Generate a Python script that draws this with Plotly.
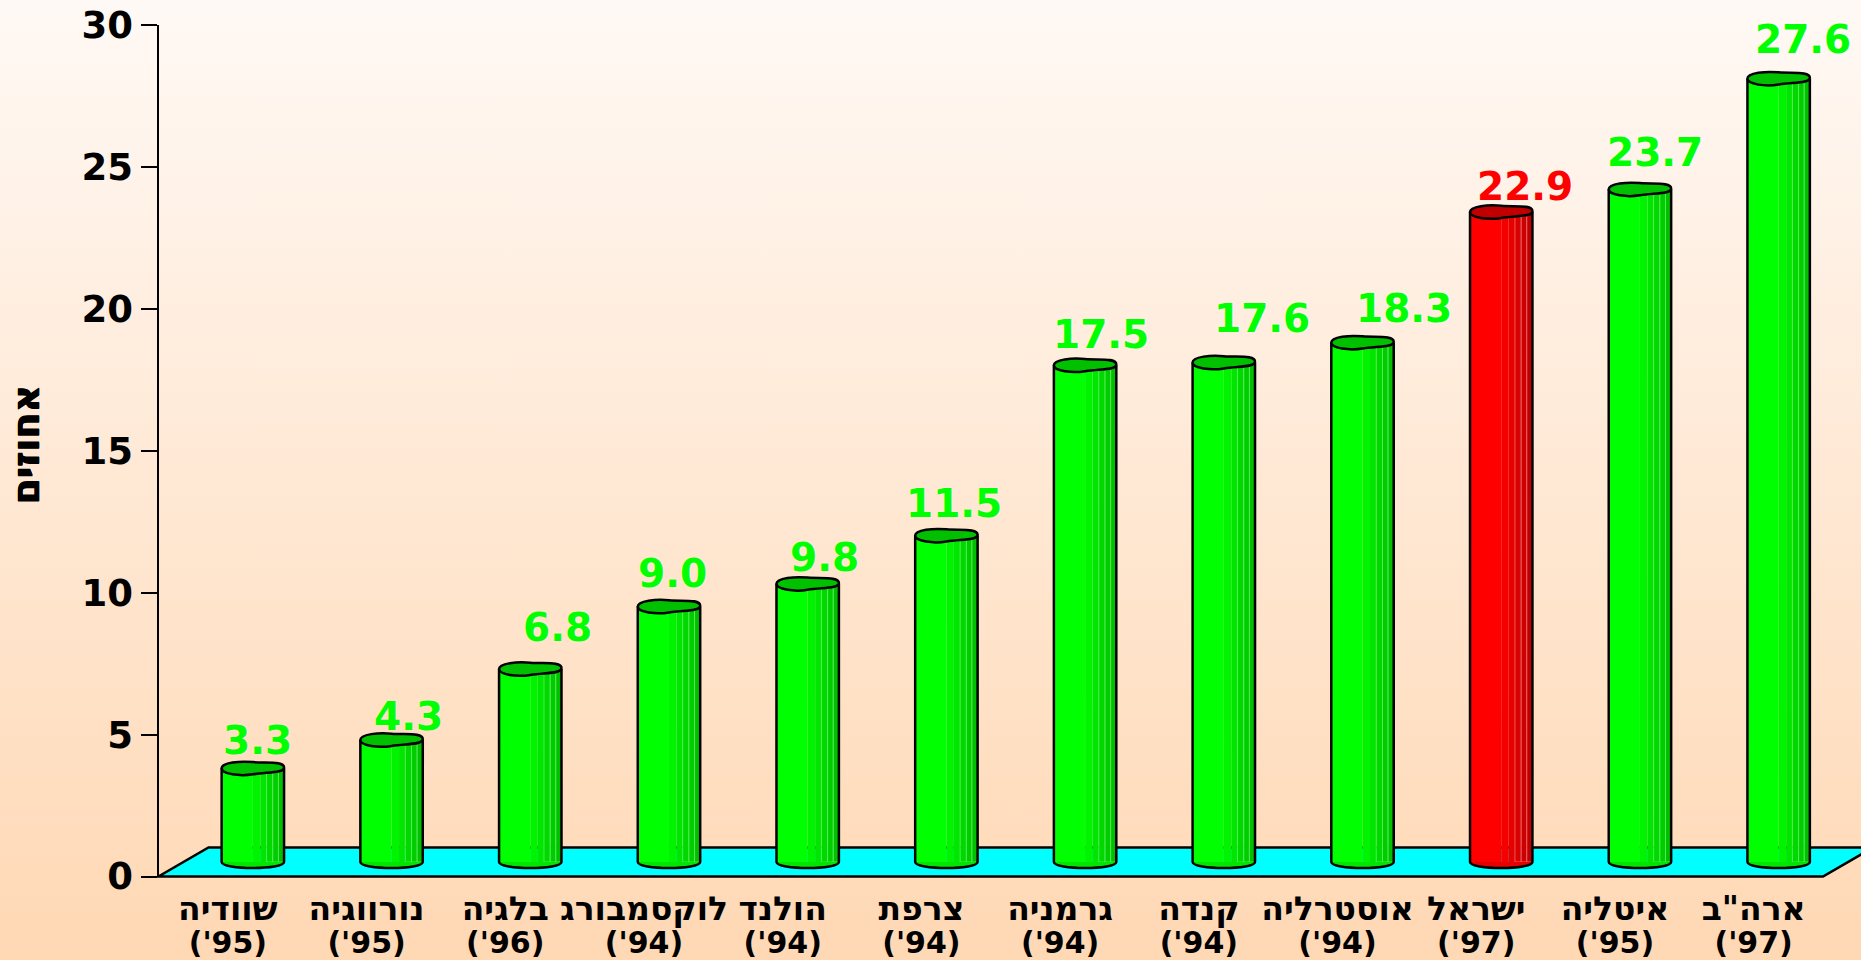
import base64
import plotly.graph_objects as go

# ---------------- data ----------------
countries = ["שוודיה", "נורווגיה", "בלגיה", "לוקסמבורג", "הולנד", "צרפת",
             "גרמניה", "קנדה", "אוסטרליה", "ישראל", "איטליה", "ארה\"ב"]
years = ["'95", "'95", "'96", "'94", "'94", "'94", "'94", "'94", "'94", "'97", "'95", "'97"]
values = [3.3, 4.3, 6.8, 9.0, 9.8, 11.5, 17.5, 17.6, 18.3, 22.9, 23.7, 27.6]
highlight = "ישראל"
y_ticks = [0, 5, 10, 15, 20, 25, 30]
y_title = "אחוזים"

# ---------------- styling / geometry ----------------
W, H = 1861, 960
AX_L, AX_R = 158.5, 1823.0      # pixel x of front plane ends
PY0, PY30 = 876.5, 25.0         # pixel y of 0 and 30
DEPTH_DX, DEPTH_DY = 50.0, 29.0 # floor depth (pixels)
BAR_DX, BAR_DY = DEPTH_DX / 2, DEPTH_DY / 2
YMAX = 30.0
PPU = (PY0 - PY30) / YMAX       # pixels per unit
Y2_MIN = -1.0

# value-label pixel offsets (label placement only)
LABEL_DX = [5, 17, 27, 4, 17, 8, 16, 38, 41, 24, 15, 24]
LABEL_DY = [28, 23, 41, 33, 26, 32, 31, 44, 34, 26, 37, 39]

GREEN = ["#00FF00", "#00F400", "#00E600", "#00D800", "#00CC00", "#00C000"]
RED = ["#FF0000", "#F40000", "#E60000", "#D80000", "#CC0000", "#C00000"]
GREEN_HI = "#5AF05A"
RED_HI = "#F06A6A"
STRIPS = [0.0, 0.5, 0.62, 0.72, 0.82, 0.91, 1.0]
BW = 0.45
FONT = "DejaVu Sans"

n = len(values)
idx = list(range(n))
is_hi = [c == highlight for c in countries]

fig = go.Figure()

# invisible trace so that the front (axis) subplot is drawn
fig.add_trace(go.Scatter(x=idx, y=values, mode="markers", marker=dict(opacity=0),
                         hoverinfo="skip", showlegend=False, xaxis="x", yaxis="y"))

# bar bodies, built from vertical strips for a cylinder shading
for s in range(len(STRIPS) - 1):
    f0, f1 = STRIPS[s], STRIPS[s + 1]
    cols = [(RED if h else GREEN)[s] for h in is_hi]
    lcols = [(RED_HI if h else GREEN_HI) for h in is_hi]
    fig.add_trace(go.Bar(
        x=idx, y=values, base=0,
        width=[BW * (f1 - f0)] * n,
        offset=[-BW / 2 + BW * f0] * n,
        marker=dict(color=cols,
                    line=dict(color=lcols, width=0.8 if s >= 3 else 0)),
        xaxis="x2", yaxis="y2", hoverinfo="skip", showlegend=False,
    ))

shapes = []
def px(xp):
    return xp / W
def py(yp):
    return (H - yp) / H

floor_path = (f"M {px(AX_L)},{py(PY0)} L {px(AX_R)},{py(PY0)} "
              f"L {px(AX_R + DEPTH_DX)},{py(PY0 - DEPTH_DY)} "
              f"L {px(AX_L + DEPTH_DX)},{py(PY0 - DEPTH_DY)} Z")
shapes.append(dict(type="path", path=floor_path, xref="paper", yref="paper",
                   fillcolor="#00FFFF", line=dict(color="black", width=2.5),
                   layer="below"))

cap_d = 0.21 * 4 / 3
a = 0.21
for i, v in enumerate(values):
    pal = RED if is_hi[i] else GREEN
    l = i - BW / 2
    r = i + BW / 2
    w = BW
    shapes.append(dict(type="path", xref="x2", yref="y2",
                       path=f"M {l},0 C {l},{-cap_d} {r},{-cap_d} {r},0",
                       fillcolor=pal[2], line=dict(width=0), layer="above"))
    shapes.append(dict(type="path", xref="x2", yref="y2",
                       path=(f"M {l},{v} L {l},0 C {l},{-cap_d} {r},{-cap_d} {r},0 L {r},{v}"),
                       fillcolor="rgba(0,0,0,0)", line=dict(color="black", width=2.5),
                       layer="above"))
    top = (f"M {l},{v} "
           f"C {l},{v + a * 1.0} {l + 0.3 * w},{v + a * 1.25} {l + 0.5 * w},{v + a * 1.05} "
           f"C {l + 0.7 * w},{v + a * 0.85} {r},{v + a * 1.3} {r},{v + a * 0.15} "
           f"C {r},{v - a * 0.8} {l + 0.75 * w},{v - a * 0.6} {l + 0.5 * w},{v - a * 1.0} "
           f"C {l + 0.3 * w},{v - a * 1.35} {l},{v - a * 1.0} {l},{v} Z")
    shapes.append(dict(type="path", xref="x2", yref="y2", path=top,
                       fillcolor=pal[5], line=dict(color="black", width=2.5),
                       layer="above"))

annotations = []
for i, v in enumerate(values):
    annotations.append(dict(
        x=i, y=v, xref="x2", yref="y2", text=f"{v:.1f}", showarrow=False,
        xanchor="center", yanchor="middle",
        xshift=LABEL_DX[i], yshift=LABEL_DY[i],
        font=dict(family=FONT, size=39, color="#FF0000" if is_hi[i] else "#00FF00",
                  weight="bold"),
    ))
annotations.append(dict(
    x=px(25.5), y=py(445), xref="paper", yref="paper", text=y_title,
    textangle=-90, showarrow=False, xanchor="center", yanchor="middle",
    font=dict(family=FONT, size=38, color="black", weight="bold",
              shadow="0.6px 0 0 black, -0.6px 0 0 black"),
))

svg = ('<svg xmlns="http://www.w3.org/2000/svg" width="10" height="100" '
       'viewBox="0 0 10 100" preserveAspectRatio="none">'
       '<defs><linearGradient id="g" x1="0" y1="0" x2="0" y2="1">'
       '<stop offset="0" stop-color="#FFF9F5"/>'
       '<stop offset="1" stop-color="#FFD8B4"/>'
       '</linearGradient></defs>'
       '<rect width="10" height="100" fill="url(#g)"/></svg>')
bg_uri = "data:image/svg+xml;base64," + base64.b64encode(svg.encode()).decode()

tick_text = [f'<span style="font-size:33px">{c}</span><br>'
             f'<span style="font-size:30px">({y})</span>'
             for c, y in zip(countries, years)]

y2_bottom_px = (PY0 - BAR_DY) + (-Y2_MIN) * PPU
y2_top_px = PY30 - BAR_DY

fig.update_layout(
    width=W, height=H,
    margin=dict(l=0, r=0, t=0, b=0, pad=0, autoexpand=False),
    paper_bgcolor="#FFE8D4",
    plot_bgcolor="rgba(0,0,0,0)",
    barmode="overlay",
    showlegend=False,
    images=[dict(source=bg_uri, xref="paper", yref="paper", x=0, y=1,
                 sizex=1, sizey=1, xanchor="left", yanchor="top",
                 sizing="stretch", layer="below")],
    xaxis=dict(domain=[px(AX_L), px(AX_R)], range=[-0.5, n - 0.5], type="linear",
               tickvals=idx, ticktext=tick_text, showline=False, showgrid=False,
               zeroline=False, ticks="", fixedrange=True, anchor="y", automargin=False,
               ticklabelstandoff=16,
               tickfont=dict(family=FONT, size=26, color="black", weight="bold")),
    yaxis=dict(domain=[py(PY0), py(PY30)], range=[0, YMAX], tickvals=y_ticks,
               ticks="outside", ticklen=16, tickwidth=2, tickcolor="black",
               showline=True, linewidth=2, linecolor="black", showgrid=False,
               zeroline=False, fixedrange=True, anchor="x", automargin=False,
               tickfont=dict(family=FONT, size=37, color="black", weight="bold")),
    xaxis2=dict(domain=[px(AX_L + BAR_DX), px(AX_R + BAR_DX)], range=[-0.5, n - 0.5],
                type="linear", visible=False, anchor="y2", fixedrange=True,
                automargin=False),
    yaxis2=dict(domain=[py(y2_bottom_px), py(y2_top_px)], range=[Y2_MIN, YMAX],
                visible=False, anchor="x2", fixedrange=True, automargin=False),
    shapes=shapes,
    annotations=annotations,
)

fig.write_html("out.html", config={"displayModeBar": False},
               post_script="document.body.style.margin='0';document.body.style.overflow='hidden';")
